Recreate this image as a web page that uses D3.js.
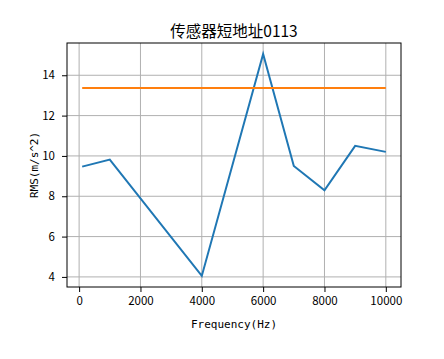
<!DOCTYPE html>
<html>
<head>
<meta charset="utf-8">
<script src="https://cdn.jsdelivr.net/npm/d3@7"></script>
<style>
  body { margin: 0; background: #fff; }
  text { fill: #000; }
</style>
</head>
<body>
<div id="chart-container"></div>
<script>
// data
const freqs = [100, 1000, 4000, 6000, 7000, 8000, 9000, 10000];
const rms = [9.47, 9.82, 4.05, 15.05, 9.5, 8.3, 10.5, 10.2];
const threshold = 13.37;
const xTicks = [0, 2000, 4000, 6000, 8000, 10000];
const yTicks = [4, 6, 8, 10, 12, 14];

const width = 444, height = 359;
const margin = { top: 43, right: 43, bottom: 72, left: 67 };
const cjk = "\"Noto Sans CJK SC\", sans-serif";
const mono = "\"DejaVu Sans Mono\", monospace";

const svg = d3.select("#chart-container")
    .append("svg")
        .attr("width", width)
        .attr("height", height);

// matplotlib style 5% margins
const xMin = d3.min(freqs), xMax = d3.max(freqs);
const xPad = (xMax - xMin) * 0.05;
const yLo = Math.min(d3.min(rms), threshold), yHi = Math.max(d3.max(rms), threshold);
const yPad = (yHi - yLo) * 0.05;

const x = d3.scaleLinear()
    .domain([xMin - xPad, xMax + xPad])
    .range([margin.left, width - margin.right]);
const y = d3.scaleLinear()
    .domain([yLo - yPad, yHi + yPad])
    .range([height - margin.bottom, margin.top]);

// grid
svg.append("g")
    .selectAll("line")
    .data(xTicks)
    .join("line")
        .attr("x1", d => x(d)).attr("x2", d => x(d))
        .attr("y1", margin.top).attr("y2", height - margin.bottom)
        .attr("stroke", "#b0b0b0").attr("stroke-width", 1);
svg.append("g")
    .selectAll("line")
    .data(yTicks)
    .join("line")
        .attr("x1", margin.left).attr("x2", width - margin.right)
        .attr("y1", d => y(d)).attr("y2", d => y(d))
        .attr("stroke", "#b0b0b0").attr("stroke-width", 1);

// lines
const line = d3.line().x(d => x(d[0])).y(d => y(d[1]));
svg.append("path")
    .datum(freqs.map((f, i) => [f, rms[i]]))
    .attr("d", line)
    .attr("fill", "none")
    .attr("stroke", "#1f77b4")
    .attr("stroke-width", 2);
svg.append("path")
    .datum([[xMin, threshold], [xMax, threshold]])
    .attr("d", line)
    .attr("fill", "none")
    .attr("stroke", "#ff7f0e")
    .attr("stroke-width", 2);

// axes
const xAxis = svg.append("g")
    .attr("transform", `translate(0,${height - margin.bottom})`)
    .call(d3.axisBottom(x).tickValues(xTicks).tickSize(5).tickPadding(5).tickFormat(d3.format("d")));
const yAxis = svg.append("g")
    .attr("transform", `translate(${margin.left},0)`)
    .call(d3.axisLeft(y).tickValues(yTicks).tickSize(5).tickPadding(7).tickFormat(d3.format("d")));
[xAxis, yAxis].forEach(a => {
    a.select(".domain").remove();
    a.selectAll("text").style("font-size", "11.5px").style("font-family", cjk);
    a.selectAll("line").attr("stroke", "#000").attr("stroke-width", 1);
});

// frame
svg.append("rect")
    .attr("x", margin.left).attr("y", margin.top)
    .attr("width", width - margin.left - margin.right)
    .attr("height", height - margin.top - margin.bottom)
    .attr("fill", "none")
    .attr("stroke", "#000")
    .attr("stroke-width", 1);

// labels
svg.append("text")
    .attr("x", (margin.left + width - margin.right) / 2)
    .attr("y", 37)
    .attr("text-anchor", "middle")
    .style("font-size", "15.5px")
    .style("font-family", cjk)
    .text("传感器短地址0113");
svg.append("text")
    .attr("x", (margin.left + width - margin.right) / 2)
    .attr("y", 328)
    .attr("text-anchor", "middle")
    .style("font-size", "11px")
    .style("font-family", mono)
    .text("Frequency(Hz)");
svg.append("text")
    .attr("transform", `translate(38,${(margin.top + height - margin.bottom) / 2}) rotate(-90)`)
    .attr("text-anchor", "middle")
    .style("font-size", "11px")
    .style("font-family", mono)
    .text("RMS(m/s^2)");
</script>
</body>
</html>
